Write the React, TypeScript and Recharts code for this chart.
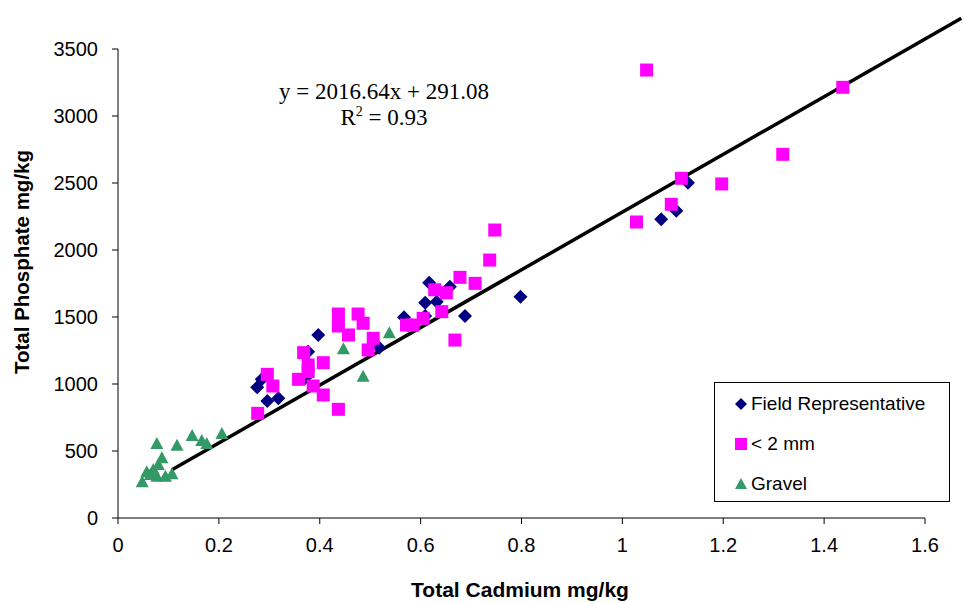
import React from 'react';
import { ScatterChart, Scatter, XAxis, YAxis, ReferenceLine, Legend } from 'recharts';

const fieldRepresentative = [
  { x: 0.276, y: 975 }, { x: 0.285, y: 1035 }, { x: 0.296, y: 873 }, { x: 0.318, y: 893 },
  { x: 0.371, y: 1045 }, { x: 0.377, y: 1241 }, { x: 0.397, y: 1366 }, { x: 0.518, y: 1270 },
  { x: 0.567, y: 1498 }, { x: 0.609, y: 1507 }, { x: 0.609, y: 1607 }, { x: 0.617, y: 1756 },
  { x: 0.632, y: 1614 }, { x: 0.658, y: 1726 }, { x: 0.688, y: 1507 }, { x: 0.798, y: 1651 },
  { x: 1.077, y: 2229 }, { x: 1.107, y: 2293 }, { x: 1.130, y: 2502 },
];

const lessThan2mm = [
  { x: 0.277, y: 781 }, { x: 0.296, y: 1072 }, { x: 0.307, y: 985 }, { x: 0.358, y: 1035 },
  { x: 0.368, y: 1234 }, { x: 0.377, y: 1142 }, { x: 0.377, y: 1092 }, { x: 0.387, y: 985 },
  { x: 0.407, y: 1159 }, { x: 0.407, y: 918 }, { x: 0.437, y: 811 }, { x: 0.437, y: 1522 },
  { x: 0.437, y: 1433 }, { x: 0.457, y: 1366 }, { x: 0.476, y: 1522 }, { x: 0.486, y: 1453 },
  { x: 0.496, y: 1254 }, { x: 0.506, y: 1341 }, { x: 0.572, y: 1440 }, { x: 0.585, y: 1440 },
  { x: 0.605, y: 1490 }, { x: 0.642, y: 1540 }, { x: 0.628, y: 1703 }, { x: 0.651, y: 1681 },
  { x: 0.668, y: 1328 }, { x: 0.678, y: 1796 }, { x: 0.708, y: 1751 }, { x: 0.737, y: 1925 },
  { x: 0.747, y: 2149 }, { x: 1.028, y: 2209 }, { x: 1.097, y: 2341 }, { x: 1.117, y: 2535 },
  { x: 1.197, y: 2493 }, { x: 1.048, y: 3343 }, { x: 1.318, y: 2714 }, { x: 1.437, y: 3214 },
];

const gravel = [
  { x: 0.048, y: 266 }, { x: 0.057, y: 341 }, { x: 0.064, y: 321 }, { x: 0.070, y: 358 },
  { x: 0.077, y: 552 }, { x: 0.080, y: 396 }, { x: 0.087, y: 446 }, { x: 0.077, y: 308 },
  { x: 0.094, y: 308 }, { x: 0.107, y: 326 }, { x: 0.117, y: 540 }, { x: 0.147, y: 612 },
  { x: 0.166, y: 575 }, { x: 0.176, y: 552 }, { x: 0.206, y: 627 }, { x: 0.447, y: 1259 },
  { x: 0.538, y: 1378 }, { x: 0.486, y: 1054 },
];

const trendSegment = [{ x: 0.107, y: 360 }, { x: 1.672, y: 3730 }];

const xTicks = [0, 0.2, 0.4, 0.6, 0.8, 1, 1.2, 1.4, 1.6];
const yTicks = [0, 500, 1000, 1500, 2000, 2500, 3000, 3500];

const seriesNames = ['Field Representative', '< 2 mm', 'Gravel'];
const NAVY = '#000080';
const MAGENTA = '#FF00FF';
const GREEN = '#339966';
const SANS = '"Liberation Sans", Arial, sans-serif';
const SERIF = '"Liberation Serif", "Times New Roman", serif';

const DiamondShape = (props: any) => {
  const { cx, cy } = props;
  const r = 7;
  return <path d={`M${cx},${cy - r}L${cx + r},${cy}L${cx},${cy + r}L${cx - r},${cy}Z`} fill={NAVY} />;
};
const SquareShape = (props: any) => {
  const { cx, cy } = props;
  const h = 6.5;
  return <rect x={cx - h} y={cy - h} width={2 * h} height={2 * h} fill={MAGENTA} />;
};
const TriangleShape = (props: any) => {
  const { cx, cy } = props;
  return <path d={`M${cx},${cy - 7}L${cx + 6.5},${cy + 5}L${cx - 6.5},${cy + 5}Z`} fill={GREEN} />;
};

const LegendContent = () => {
  const icons = [
    <path key="d" d="M6,0L12,6L6,12L0,6Z" fill={NAVY} />,
    <rect key="s" x={0} y={0} width={12} height={12} fill={MAGENTA} />,
    <path key="t" d="M6,0L12,11L0,11Z" fill={GREEN} />,
  ];
  return (
    <div style={{ position: 'relative', width: '100%', height: '100%' }}>
      {seriesNames.map((name, i) => (
        <div
          key={name}
          style={{
            position: 'absolute',
            left: 20,
            top: 9 + i * 40,
            height: 24,
            display: 'flex',
            alignItems: 'center',
            fontFamily: SANS,
            fontSize: 19,
            color: '#000',
            whiteSpace: 'nowrap',
          }}
        >
          <svg width={12} height={12} style={{ marginRight: 4 }}>{icons[i]}</svg>
          <span>{name}</span>
        </div>
      ))}
    </div>
  );
};

const YTitle = (props: any) => (
  <text x={28.5} y={262} transform="rotate(-90, 28.5, 262)" textAnchor="middle"
    fontFamily={SANS} fontWeight="bold" fontSize={20.5} fill="#000">
    Total Phosphate mg/kg
  </text>
);
const XTitle = (props: any) => (
  <text x={520} y={597} textAnchor="middle" fontFamily={SANS} fontWeight="bold" fontSize={21} fill="#000">
    Total Cadmium mg/kg
  </text>
);

export default function App() {
  return (
    <div style={{ position: 'absolute', left: 0, top: 0, width: 964, height: 603, background: '#fff' }}>
      <ScatterChart width={964} height={603} margin={{ top: 49, right: 39, left: 0, bottom: 0 }}>
        <XAxis
          type="number"
          dataKey="x"
          domain={[0, 1.6]}
          ticks={xTicks}
          allowDataOverflow
          height={85}
          tickSize={6}
          tickMargin={14}
          axisLine={{ stroke: '#000', strokeWidth: 1 }}
          tickLine={{ stroke: '#000' }}
          tick={{ fill: '#000', fontSize: 20, fontFamily: SANS }}
          label={<XTitle />}
        />
        <YAxis
          type="number"
          dataKey="y"
          domain={[0, 3500]}
          ticks={yTicks}
          allowDataOverflow
          width={118}
          tickSize={6}
          tickMargin={14}
          axisLine={{ stroke: '#000', strokeWidth: 1 }}
          tickLine={{ stroke: '#000' }}
          tick={{ fill: '#000', fontSize: 20, fontFamily: SANS }}
          label={<YTitle />}
        />
        <Scatter name={seriesNames[0]} data={fieldRepresentative} shape={<DiamondShape />} isAnimationActive={false} />
        <Scatter name={seriesNames[1]} data={lessThan2mm} shape={<SquareShape />} isAnimationActive={false} />
        <Scatter name={seriesNames[2]} data={gravel} shape={<TriangleShape />} isAnimationActive={false} />
        <ReferenceLine
          segment={trendSegment}
          ifOverflow="visible"
          stroke="#000"
          strokeWidth={3.5}
        />
        <Legend
          layout="vertical"
          align="center"
          verticalAlign="middle"
          content={<LegendContent />}
          wrapperStyle={{
            position: 'absolute',
            left: 714,
            top: 382,
            width: 236,
            height: 120,
            border: '1px solid #000',
            boxSizing: 'border-box',
            background: '#fff',
          }}
        />
      </ScatterChart>
      <div
        style={{
          position: 'absolute',
          left: 264,
          top: 79,
          width: 240,
          textAlign: 'center',
          fontFamily: SERIF,
          fontSize: 23,
          lineHeight: '26px',
          color: '#000',
          whiteSpace: 'nowrap',
        }}
      >
        <div>y = 2016.64x + 291.08</div>
        <div>
          R<span style={{ fontSize: 14, position: 'relative', top: -9 }}>2</span> = 0.93
        </div>
      </div>
    </div>
  );
}
